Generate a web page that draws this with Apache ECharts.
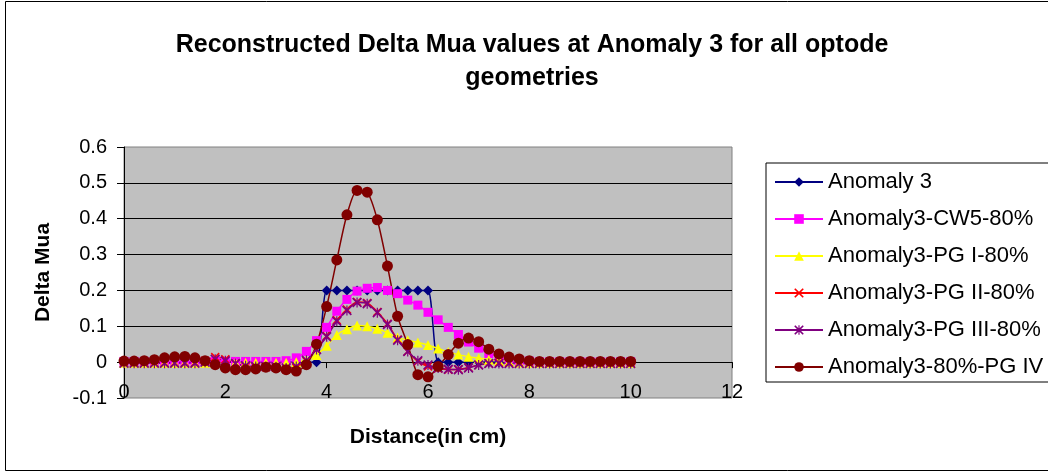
<!DOCTYPE html>
<html>
<head>
<meta charset="utf-8">
<script src="https://cdn.jsdelivr.net/npm/echarts@6/dist/echarts.min.js"></script>
<style>
html,body{margin:0;padding:0;background:#fff;}
#chart{width:1048px;height:472px;}
</style>
</head>
<body>
<div id="chart"></div>
<script>
// ---------- DATA ----------
const titleText = 'Reconstructed Delta Mua values at Anomaly 3 for all optode\ngeometries';
const xAxisName = 'Distance(in cm)';
const yAxisName = 'Delta Mua';
const seriesNames = ['Anomaly 3','Anomaly3-CW5-80%','Anomaly3-PG I-80%','Anomaly3-PG II-80%','Anomaly3-PG III-80%','Anomaly3-80%-PG IV'];

const dist = [0,0.2,0.4,0.6,0.8,1,1.2,1.4,1.6,1.8,2,2.2,2.4,2.6,2.8,3,3.2,3.4,3.6,3.8,
  4,4.2,4.4,4.6,4.8,5,5.2,5.4,5.6,5.8,6,6.2,6.4,6.6,6.8,7,7.2,7.4,7.6,7.8,
  8,8.2,8.4,8.6,8.8,9,9.2,9.4,9.6,9.8,10];

const anomaly3 = [0,0,0,0,0,0,0,0,0,0,0,0,0,0,0,0,0,0,0,0,
  0.2,0.2,0.2,0.2,0.2,0.2,0.2,0.2,0.2,0.2,0.2,
  0,0,0,0,0,0,0,0,0,0,0,0,0,0,0,0,0,0,0,0];

const cw5 = [0.002,0.002,0.002,0.002,0.002,0.002,0.002,0.002,0.002,0.002,0.002,0.002,0.002,0.002,0.002,0.002,
  0.004,0.012,0.03,0.06,
  0.097,0.142,0.175,0.198,0.206,0.208,0.2,0.191,0.173,0.159,0.139,0.118,0.097,0.077,0.056,0.039,0.024,0.015,0.009,0.005,0.003,
  0.001,0.001,0.001,0.001,0.001,0.001,0.001,0.001,0.001,0.001];

const pg1 = [-0.002,-0.002,-0.002,-0.002,-0.002,-0.002,-0.002,-0.002,-0.002,-0.002,-0.002,-0.002,-0.002,-0.002,-0.002,-0.002,-0.002,
  0,0.006,0.02,
  0.046,0.076,0.092,0.102,0.1,0.093,0.082,0.069,0.061,0.055,0.048,0.038,0.028,0.021,0.015,0.011,0.007,0.004,0.001,-0.001,-0.002,
  -0.002,-0.002,-0.002,-0.002,-0.002,-0.002,-0.002,-0.002,-0.002,-0.002];

const pg2 = [-0.002,-0.002,-0.002,-0.002,-0.002,-0.002,-0.002,-0.002,
  0.004,0.014,0.008,-0.004,-0.012,-0.014,-0.014,-0.015,-0.02,-0.016,0.003,0.036,
  0.073,0.117,0.147,0.168,0.165,0.14,0.107,0.063,0.03,0.002,-0.012,-0.018,-0.021,-0.02,-0.015,-0.008,-0.004,
  -0.002,-0.002,-0.002,-0.002,-0.002,-0.002,-0.002,-0.002,-0.002,-0.002,-0.002,-0.002,-0.002,-0.002];

const pg3 = [-0.003,-0.003,-0.003,-0.003,-0.003,-0.003,-0.003,-0.003,
  0,0.008,0.004,-0.004,-0.01,-0.012,-0.012,-0.013,-0.016,-0.012,0.005,0.035,
  0.071,0.114,0.144,0.166,0.163,0.138,0.105,0.061,0.03,0.004,-0.008,-0.016,-0.02,-0.021,-0.016,-0.008,-0.004,
  -0.004,-0.004,-0.004,-0.004,-0.004,-0.004,-0.004,-0.004,-0.004,-0.004,-0.004,-0.004,-0.004,-0.004];

const pg4 = [0.003,0.003,0.004,0.007,0.012,0.015,0.016,0.012,0.004,-0.007,-0.016,-0.021,-0.021,-0.019,-0.014,-0.016,-0.021,-0.025,-0.007,0.05,
  0.155,0.285,0.411,0.479,0.474,0.397,0.268,0.128,0.049,-0.035,-0.041,-0.012,0.021,0.053,0.067,0.057,0.036,0.023,0.014,0.009,0.004,
  0.002,0.002,0.002,0.002,0.002,0.002,0.002,0.002,0.002,0.002];

const xTicks = {min:0, max:12, interval:2};
const yTicks = {min:-0.1, max:0.6, interval:0.1};

// ---------- STYLE ----------
const FONT = '"Liberation Sans", Arial, sans-serif';
const X_PATH = 'path://M0,1.2L1.2,0L5,3.8L8.8,0L10,1.2L6.2,5L10,8.8L8.8,10L5,6.2L1.2,10L0,8.8L3.8,5Z';
const STAR_PATH = 'path://M0,1.2L1.2,0L5,3.8L8.8,0L10,1.2L6.2,5L10,8.8L8.8,10L5,6.2L1.2,10L0,8.8L3.8,5Z M4.4,0L5.6,0L5.6,10L4.4,10Z';

const allValues = [anomaly3, cw5, pg1, pg2, pg3, pg4];
const colors = ['#000080','#FF00FF','#FFFF00','#FF0000','#800080','#800000'];
const symbols = ['diamond','rect','triangle',X_PATH,STAR_PATH,'circle'];
const sizes = [10,9,10,9,10,11];

const series = allValues.map((vals, k) => ({
  name: seriesNames[k],
  type: 'line',
  data: dist.map((x, i) => [x, vals[i]]),
  symbol: symbols[k],
  symbolSize: sizes[k],
  showAllSymbol: true,
  smooth: 0.25,
  lineStyle: {color: colors[k], width: 1.5},
  itemStyle: {color: colors[k], borderColor: colors[k], borderWidth: 0},
  emphasis: {disabled: true}
}));

const chart = echarts.init(document.getElementById('chart'), null, {renderer: 'canvas'});
chart.setOption({
  animation: false,
  backgroundColor: '#ffffff',
  title: {
    text: titleText,
    left: 532,
    textAlign: 'center',
    top: 29,
    padding: 0,
    textStyle: {fontFamily: FONT, fontSize: 25, fontWeight: 'bold', color: '#000', lineHeight: 33}
  },
  legend: {
    orient: 'vertical',
    left: 766,
    top: 163,
    padding: [7, 14, 3, 8],
    itemGap: 13,
    itemWidth: 48,
    itemHeight: 12,
    itemTextGap: 5,
    backgroundColor: '#ffffff',
    borderColor: '#000000',
    borderWidth: 1,
    borderRadius: 0,
    textStyle: {fontFamily: FONT, fontSize: 22, color: '#000', lineHeight: 24},
    data: seriesNames
  },
  grid: {
    left: 124, right: 316, top: 147, bottom: 74,
    outerBoundsMode: 'none',
    containLabel: false,
    show: true,
    backgroundColor: '#C0C0C0',
    borderColor: '#808080',
    borderWidth: 1
  },
  xAxis: {
    type: 'value',
    min: xTicks.min, max: xTicks.max, interval: xTicks.interval,
    name: xAxisName,
    nameLocation: 'middle',
    nameGap: 29,
    nameTextStyle: {fontFamily: FONT, fontSize: 21, fontWeight: 'bold', color: '#000'},
    axisLine: {show: true, onZero: true, lineStyle: {color: '#000', width: 1}},
    axisTick: {show: true, length: 6, lineStyle: {color: '#000'}},
    axisLabel: {fontFamily: FONT, fontSize: 20, color: '#000', margin: -16},
    splitLine: {show: false}
  },
  yAxis: {
    type: 'value',
    min: yTicks.min, max: yTicks.max, interval: yTicks.interval,
    name: yAxisName,
    nameLocation: 'middle',
    nameRotate: 90,
    nameGap: 70,
    nameTextStyle: {fontFamily: FONT, fontSize: 21, fontWeight: 'bold', color: '#000'},
    axisLine: {show: true, onZero: false, lineStyle: {color: '#000', width: 1}},
    axisTick: {show: true, length: 7, lineStyle: {color: '#000'}},
    axisLabel: {fontFamily: FONT, fontSize: 20, color: '#000', margin: 17},
    splitLine: {show: true, showMinLine: false, showMaxLine: false, lineStyle: {color: '#000', width: 1}}
  },
  graphic: [{
    type: 'rect',
    silent: true,
    z: 100,
    shape: {x: 5.5, y: 1.5, width: 1043, height: 469},
    style: {fill: null, stroke: '#000', lineWidth: 1}
  }],
  series: series
});
</script>
</body>
</html>
